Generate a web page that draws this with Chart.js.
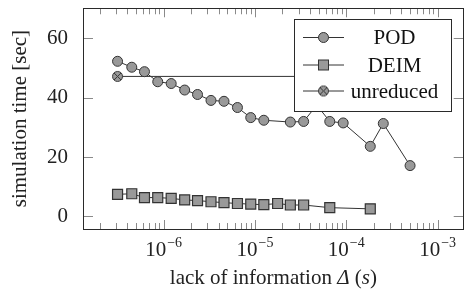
<!DOCTYPE html>
<html>
<head>
<meta charset="utf-8">
<script src="https://cdn.jsdelivr.net/npm/chart.js@4/dist/chart.umd.min.js"></script>
<style>
  body { margin: 0; background: #fff; }
  #myChart { display: block; }
</style>
</head>
<body>
<canvas id="myChart" width="472" height="297"></canvas>
<script>
var podX = [3.13e-7, 4.48e-7, 6.17e-7, 8.62e-7, 1.21e-6, 1.70e-6, 2.35e-6, 3.30e-6, 4.58e-6, 6.43e-6,
  8.99e-6, 1.25e-5, 2.44e-5, 3.41e-5, 4.75e-5, 6.59e-5, 9.24e-5, 1.83e-4, 2.54e-4, 4.99e-4];
var podY = [52.3, 50.3, 48.8, 45.4, 44.8, 42.6, 41.1, 39.1, 38.8, 36.7,
  33.3, 32.4, 31.8, 32.0, 37.5, 32.0, 31.5, 23.6, 31.3, 17.1];
var deimX = [3.13e-7, 4.48e-7, 6.17e-7, 8.62e-7, 1.21e-6, 1.70e-6, 2.35e-6, 3.30e-6, 4.58e-6, 6.43e-6,
  8.99e-6, 1.25e-5, 1.77e-5, 2.44e-5, 3.41e-5, 6.59e-5, 1.83e-4];
var deimY = [7.4, 7.6, 6.3, 6.3, 6.05, 5.5, 5.3, 4.9, 4.6, 4.3,
  4.1, 3.9, 4.3, 3.8, 3.8, 2.9, 2.5];
var unredX = [3.13e-7, 1e-4];
var unredY = [47.2, 47.2];
var seriesNames = ['POD', 'DEIM', 'unreduced'];
var yTicks = [0, 20, 40, 60];
var xDecades = [-6, -5, -4, -3];

var serif = '"Liberation Serif", "Times New Roman", serif';
var fill = '#999999';
var edge = '#333333';

function pts(xs, ys) {
  return xs.map((x, i) => ({x: x, y: ys[i]}));
}

// circle with a cross inside, used for the unreduced marker
var otimes = document.createElement('canvas');
otimes.width = 13; otimes.height = 13;
(function () {
  var c = otimes.getContext('2d');
  c.beginPath(); c.arc(6.5, 6.5, 5, 0, Math.PI * 2);
  c.fillStyle = fill; c.fill();
  c.strokeStyle = edge; c.lineWidth = 1; c.stroke();
  c.beginPath();
  c.moveTo(3, 3); c.lineTo(10, 10);
  c.moveTo(10, 3); c.lineTo(3, 10);
  c.stroke();
})();

var axisDeco = {
  id: 'axisDeco',
  beforeDatasetsDraw(chart) {
    var ctx = chart.ctx, a = chart.chartArea;
    var xs = chart.scales.x, ys = chart.scales.y;
    ctx.save();
    ctx.strokeStyle = '#8a8a8a';
    ctx.lineWidth = 1;
    ctx.beginPath();
    yTicks.forEach(v => {
      var p = Math.round(ys.getPixelForValue(v)) + 0.5;
      ctx.moveTo(a.left, p); ctx.lineTo(a.left + 10, p);
      ctx.moveTo(a.right, p); ctx.lineTo(a.right - 10, p);
    });
    for (var k = -7; k <= -3; k++) {
      for (var m = 1; m <= 9; m++) {
        var v = m * Math.pow(10, k);
        if (v < xs.min || v > xs.max) continue;
        var p = Math.round(xs.getPixelForValue(v)) + 0.5;
        var len = m === 1 ? 9 : 6;
        ctx.moveTo(p, a.bottom); ctx.lineTo(p, a.bottom - len);
        ctx.moveTo(p, a.top); ctx.lineTo(p, a.top + len);
      }
    }
    ctx.stroke();

    // x tick labels 10^k
    ctx.fillStyle = '#222';
    ctx.textBaseline = 'alphabetic';
    ctx.textAlign = 'left';
    xDecades.forEach(k => {
      var p = xs.getPixelForValue(Math.pow(10, k));
      ctx.font = '21px ' + serif;
      var w1 = ctx.measureText('10').width;
      ctx.font = '14px ' + serif;
      var sup = '\u2212' + Math.abs(k);
      var w2 = ctx.measureText(sup).width;
      var x0 = p - (w1 + w2 + 1) / 2;
      ctx.font = '21px ' + serif;
      ctx.fillText('10', x0, 256);
      ctx.font = '14px ' + serif;
      ctx.fillText(sup, x0 + w1 + 1, 247);
    });

    // x title with italic parts
    var parts = [['lack of information ', ''], ['\u0394', 'italic '], [' (', ''], ['s', 'italic '], [')', '']];
    var total = 0;
    parts.forEach(pt => { ctx.font = pt[1] + '21px ' + serif; total += ctx.measureText(pt[0]).width; });
    var cx = (a.left + a.right) / 2 - total / 2;
    parts.forEach(pt => {
      ctx.font = pt[1] + '21px ' + serif;
      ctx.fillText(pt[0], cx, 284);
      cx += ctx.measureText(pt[0]).width;
    });

    // y title
    ctx.save();
    ctx.translate(26, (a.top + a.bottom) / 2);
    ctx.rotate(-Math.PI / 2);
    ctx.textAlign = 'center';
    ctx.font = '21px ' + serif;
    ctx.fillText('simulation time [sec]', 0, 0);
    ctx.restore();
    ctx.restore();
  },
  afterDraw(chart) {
    var ctx = chart.ctx, a = chart.chartArea;
    ctx.save();
    ctx.strokeStyle = '#2a2a2a';
    ctx.lineWidth = 1;
    ctx.strokeRect(Math.round(a.left) + 0.5, Math.round(a.top) + 0.5,
      Math.round(a.right - a.left) - 1, Math.round(a.bottom - a.top));

    // legend box over the data
    var bx = 294.5, by = 19.5, bw = 157, bh = 92;
    ctx.fillStyle = '#fff';
    ctx.fillRect(bx, by, bw, bh);
    ctx.strokeStyle = '#2a2a2a';
    ctx.strokeRect(bx, by, bw, bh);
    var rows = [37.5, 65, 91];
    ctx.font = '21px ' + serif;
    ctx.textAlign = 'center';
    ctx.textBaseline = 'middle';
    rows.forEach((ry, i) => {
      ctx.strokeStyle = edge;
      ctx.beginPath(); ctx.moveTo(303, ry); ctx.lineTo(344, ry); ctx.stroke();
      ctx.fillStyle = fill;
      if (i === 0) {
        ctx.beginPath(); ctx.arc(323.5, ry, 5, 0, Math.PI * 2); ctx.fill(); ctx.stroke();
      } else if (i === 1) {
        ctx.fillRect(318.5, ry - 5, 10, 10); ctx.strokeRect(318.5, ry - 5, 10, 10);
      } else {
        ctx.drawImage(otimes, 323.5 - 6.5, ry - 6.5);
      }
      ctx.fillStyle = '#111';
      ctx.fillText(seriesNames[i], 394.5, ry + 1);
    });
    ctx.restore();
  }
};

var chart = new Chart(document.getElementById('myChart'), {
  type: 'line',
  data: {
    datasets: [{
      label: seriesNames[0],
      data: pts(podX, podY),
      borderColor: edge, borderWidth: 1,
      pointStyle: 'circle', pointRadius: 5,
      pointBackgroundColor: fill, pointBorderColor: edge, pointBorderWidth: 1
    }, {
      label: seriesNames[1],
      data: pts(deimX, deimY),
      borderColor: edge, borderWidth: 1,
      pointStyle: 'rect', pointRadius: 7.07,
      pointBackgroundColor: fill, pointBorderColor: edge, pointBorderWidth: 1.2
    }, {
      label: seriesNames[2],
      data: pts(unredX, unredY),
      borderColor: edge, borderWidth: 1,
      pointStyle: otimes, pointRadius: 5
    }]
  },
  options: {
    responsive: false,
    animation: false,
    events: [],
    layout: { padding: { left: 0, right: 1, top: 7, bottom: 0 } },
    plugins: { legend: { display: false }, tooltip: { enabled: false } },
    scales: {
      x: {
        type: 'logarithmic',
        min: 1.31e-7, max: 1.93e-3,
        grid: { display: false },
        border: { display: false },
        ticks: { display: false },
        afterFit: s => { s.height = 68; s.paddingLeft = 0; s.paddingRight = 0; }
      },
      y: {
        min: -4.3, max: 70.2,
        grid: { display: false },
        border: { display: false },
        afterBuildTicks: s => { s.ticks = yTicks.map(v => ({value: v})); },
        ticks: { color: '#222', padding: 7, font: { family: serif, size: 21 } },
        afterFit: s => { s.width = 83; s.paddingTop = 0; s.paddingBottom = 0; }
      }
    }
  },
  plugins: [axisDeco]
});
</script>
</body>
</html>
